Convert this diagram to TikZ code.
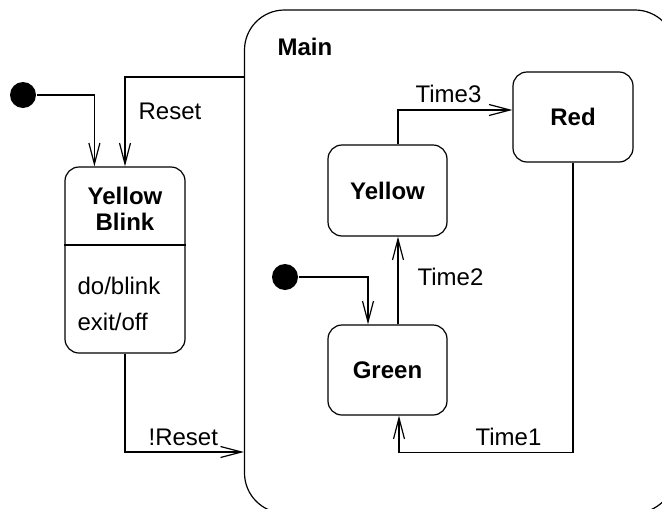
\documentclass[tikz,border=0pt]{standalone}
\usepackage{fontspec}
\setmainfont{Liberation Sans}
\usetikzlibrary{arrows.meta}
\begin{document}
\begin{tikzpicture}[x=1pt,y=-1pt, line width=1.2pt,
  >={Straight Barb[length=21pt,width=11pt]},
  every node/.style={font=\fontsize{24}{28}\selectfont, inner sep=0pt},
  state/.style={draw, rounded corners=14pt, font=\fontsize{24}{28}\selectfont\bfseries},
  boldtxt/.style={font=\fontsize{24}{28}\selectfont\bfseries},
  initdot/.style={circle, fill, minimum size=26pt},
  lbl/.style={anchor=base west}]
\useasboundingbox (0,0) rectangle (662,509);
\clip (0,0) rectangle (662,509);

% Main composite state
\node[draw, rounded corners=40pt, minimum width=430.5pt, minimum height=503pt] (main) at (459.75,261.5) {};
\node[lbl, boldtxt] (mainlbl) at (277,55) {Main};

% Yellow Blink state
\node[state, minimum width=120pt, minimum height=186pt] (yb) at (125,260) {};
\draw ([yshift=15pt]yb.west) -- ([yshift=15pt]yb.east);
\node[anchor=base, boldtxt] (ybt1) at (125,204) {Yellow};
\node[anchor=base, boldtxt] (ybt2) at (125,230) {Blink};
\node[lbl] (act1) at (77,294) {do/blink};
\node[lbl] (act2) at (77,330) {exit/off};

% inner states
\node[state, minimum width=119pt, minimum height=91pt] (yellow) at (387.5,190.5) {Yellow};
\node[state, minimum width=120pt, minimum height=90pt] (red) at (573,117) {Red};
\node[state, minimum width=119pt, minimum height=90pt] (green) at (387.5,370) {Green};

% initial pseudostates
\node[initdot] (i1) at (23,95) {};
\node[initdot] (i2) at (285,277) {};

% transitions
\draw[->] (i1) -| ([xshift=30pt]yb.north west);
\draw[->] ([yshift=184.5pt]main.west) -| (yb.north);
\node[lbl] (lreset) at (138,119) {Reset};

\draw[->] (yb.south) |- ([yshift=-190.5pt]main.west);
\node[lbl] (lnreset) at (148,445) {!Reset};

\draw[->] (i2) -| ([xshift=-19.5pt]green.north);

\draw[->] ([xshift=10.5pt]green.north) -- ([xshift=10.5pt]yellow.south);
\node[lbl] (ltime2) at (417,285) {Time2};

\draw[->] ([xshift=10.5pt]yellow.north) |- ([yshift=7pt]red.west);
\node[lbl] (ltime3) at (415,102) {Time3};

\draw[->] (red.south) |- ([xshift=11.5pt,yshift=-37pt]green.south) -- ([xshift=11.5pt]green.south);
\node[lbl] (ltime1) at (475,445) {Time1};
\end{tikzpicture}
\end{document}
